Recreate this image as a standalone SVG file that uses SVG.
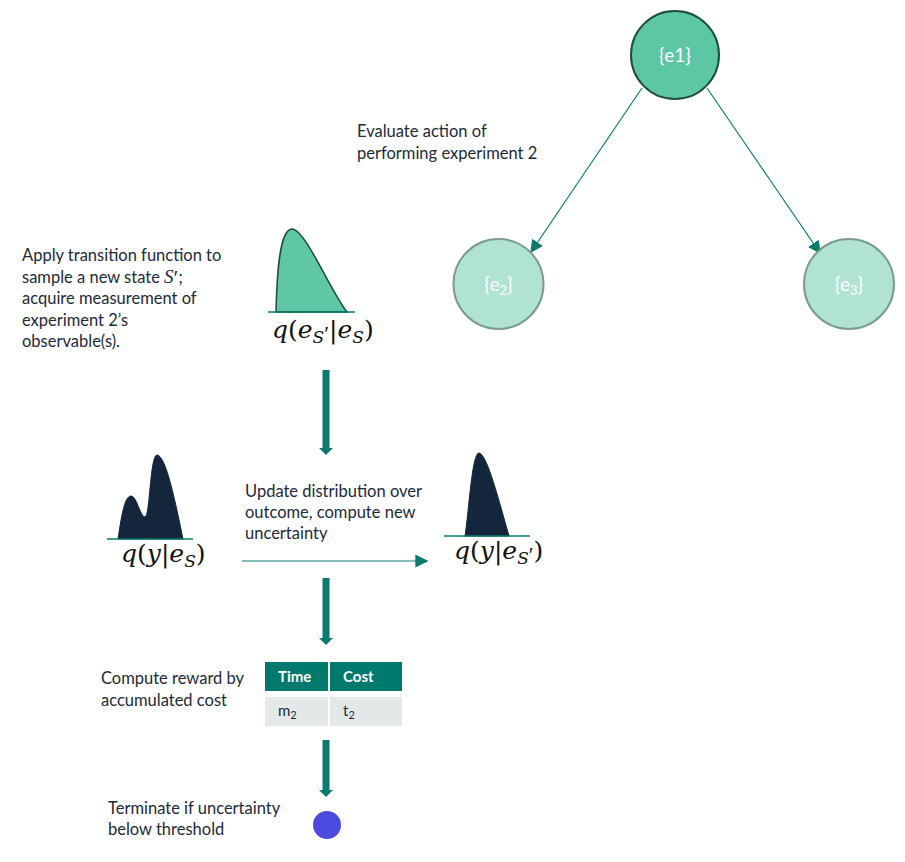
<svg xmlns="http://www.w3.org/2000/svg" width="905" height="862" viewBox="0 0 905 862">
<defs>
<style>
.t{font-family:Lato,"Noto Sans",sans-serif;font-size:16.5px;fill:#1c2a3a}
.m{font-family:"DejaVu Serif","Liberation Serif",serif;font-style:italic;font-size:25px;fill:#111}
.up{font-style:normal}
.pr{font-family:"Liberation Serif",serif;font-style:normal}
.nt{font-family:Lato,"Noto Sans",sans-serif;font-size:19px;fill:#fff;text-anchor:middle}
.th{font-family:Lato,"Noto Sans",sans-serif;font-size:15px;font-weight:bold;fill:#fff}
.td{font-family:Lato,"Noto Sans",sans-serif;font-size:15px;fill:#1c2a3a}
.thin{stroke:#0b7a6e;stroke-width:1.2;fill:none}
.thick{stroke:#0b7a6e;stroke-width:7;fill:none}
.base{stroke:#0b7a6e;stroke-width:1.5}
</style>
<marker id="ahs" viewBox="0 0 10 10" refX="9" refY="5" markerWidth="13" markerHeight="13" markerUnits="userSpaceOnUse" orient="auto">
<path d="M0,0 L10,5 L0,10 Z" fill="#0b7a6e"/>
</marker>
</defs>

<g id="connectors">
<line class="thin" x1="642" y1="88" x2="531" y2="252" marker-end="url(#ahs)"/>
<line class="thin" x1="707" y1="88" x2="820" y2="253" marker-end="url(#ahs)"/>
<line class="thin" x1="242" y1="561" x2="427" y2="561" marker-end="url(#ahs)"/>
<line class="thick" x1="326" y1="370" x2="326" y2="449"/>
<path d="M319,448 L333,448 L326,455 Z" fill="#0b7a6e"/>
<line class="thick" x1="326" y1="578" x2="326" y2="638"/>
<path d="M319,638 L333,638 L326,645 Z" fill="#0b7a6e"/>
<line class="thick" x1="326" y1="740" x2="326" y2="790"/>
<path d="M319,790 L333,790 L326,797 Z" fill="#0b7a6e"/>
</g>

<g id="node-e1">
<circle cx="675" cy="55" r="44" fill="#5cc6a5" stroke="#1e4d40" stroke-width="2"/>
<text class="nt" x="675" y="62">{e1}</text>
</g>
<g id="node-e2">
<circle cx="498.5" cy="284" r="45" fill="#b0e3d2" stroke="#7a9c90" stroke-width="2"/>
<text class="nt" x="498.5" y="291">{e<tspan font-size="13" dy="4">2</tspan><tspan dy="-4">}</tspan></text>
</g>
<g id="node-e3">
<circle cx="849" cy="284" r="45" fill="#b0e3d2" stroke="#7a9c90" stroke-width="2"/>
<text class="nt" x="849" y="291">{e<tspan font-size="13" dy="4">3</tspan><tspan dy="-4">}</tspan></text>
</g>

<g id="label-evaluate">
<text class="t" x="357" y="137">Evaluate action of</text>
<text class="t" x="357" y="159">performing experiment 2</text>
</g>

<g id="label-apply">
<text class="t" x="22" y="261">Apply transition function to</text>
<text class="t" x="22" y="283">sample a new state <tspan font-family="'Liberation Serif',serif" font-style="italic" font-size="19">S</tspan><tspan class="pr" font-size="22" dy="2">′</tspan><tspan dy="-2">;</tspan></text>
<text class="t" x="22" y="304">acquire measurement of</text>
<text class="t" x="22" y="326">experiment 2’s</text>
<text class="t" x="22" y="347">observable(s).</text>
</g>

<g id="dist-transition">
<path d="M276,312 C277,270 280,229 292,229 C305,229 330,290 347,312 Z" fill="#5fc7a5" stroke="#1d4a3f" stroke-width="1.5"/>
<line class="base" x1="268" y1="312" x2="355" y2="312"/>
<text class="m" x="272" y="338">q<tspan class="up">(</tspan>e<tspan font-size="17" dy="5">S</tspan><tspan class="pr" font-size="22" dy="-2">′</tspan><tspan class="up" dy="-3">|</tspan>e<tspan font-size="17" dy="5">S</tspan><tspan class="up" dy="-5">)</tspan></text>
</g>

<g id="dist-prior">
<path d="M118,539 C121,520 124,496 131,496 C137,496 140,517 145,517 C150,517 150,455 157,455 C166,455 176,505 183,539 Z" fill="#14263b" stroke="#14263b" stroke-width="1"/>
<line class="base" x1="107" y1="539" x2="193" y2="539"/>
<text class="m" x="121" y="562">q<tspan class="up">(</tspan>y<tspan class="up">|</tspan>e<tspan font-size="17" dy="5">S</tspan><tspan class="up" dy="-5">)</tspan></text>
</g>

<g id="label-update">
<text class="t" x="245" y="497">Update distribution over</text>
<text class="t" x="245" y="518">outcome, compute new</text>
<text class="t" x="245" y="539">uncertainty</text>
</g>

<g id="dist-posterior">
<path d="M465,536 C469,510 472,453 479,453 C487,453 500,505 509,536 Z" fill="#14263b" stroke="#14263b" stroke-width="1"/>
<line class="base" x1="444" y1="536" x2="530" y2="536"/>
<text class="m" x="454" y="559">q<tspan class="up">(</tspan>y<tspan class="up">|</tspan>e<tspan font-size="17" dy="5">S</tspan><tspan class="pr" font-size="22" dy="-2">′</tspan><tspan class="up" dy="-3">)</tspan></text>
</g>

<g id="label-reward">
<text class="t" x="101" y="684">Compute reward by</text>
<text class="t" x="101" y="706">accumulated cost</text>
</g>

<g id="table">
<rect x="265" y="662" width="63" height="29" fill="#007a6c"/>
<rect x="330" y="662" width="72" height="29" fill="#007a6c"/>
<rect x="265" y="697" width="63" height="29" fill="#e4e8e8"/>
<rect x="330" y="697" width="72" height="29" fill="#e4e8e8"/>
<text class="th" x="278" y="682">Time</text>
<text class="th" x="343" y="682">Cost</text>
<text class="td" x="278" y="716">m<tspan font-size="11" dy="3">2</tspan></text>
<text class="td" x="343" y="716">t<tspan font-size="11" dy="3">2</tspan></text>
</g>

<g id="label-terminate">
<text class="t" x="108" y="814">Terminate if uncertainty</text>
<text class="t" x="108" y="835">below threshold</text>
</g>

<g id="node-terminal">
<circle cx="327" cy="825" r="14" fill="#4b4be0"/>
</g>
</svg>
